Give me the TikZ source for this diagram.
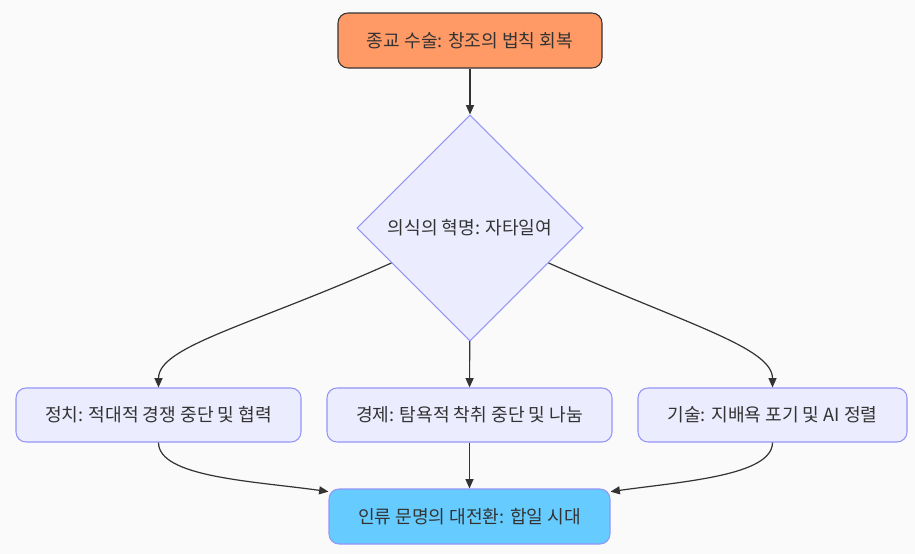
\documentclass[tikz,border=0pt]{standalone}
\usepackage{fontspec}
\setmainfont{Noto Sans CJK KR}
\usetikzlibrary{positioning,shapes.geometric,arrows.meta}
\definecolor{bg}{HTML}{FAFAFB}
\definecolor{boxfill}{HTML}{ECECFF}
\definecolor{boxline}{HTML}{9595F7}
\definecolor{topfill}{HTML}{FF9966}
\definecolor{endfill}{HTML}{66CCFF}
\definecolor{edgecol}{HTML}{333333}

\begin{document}
\begin{tikzpicture}[x=0.75pt,y=-0.75pt,
  font=\fontsize{13.6}{16}\selectfont,
  step box/.style={rectangle,rounded corners=7.5pt,draw=boxline,fill=boxfill,
    line width=0.8pt,minimum height=40.5pt,inner sep=0pt,text=edgecol},
  choice/.style={diamond,draw=boxline,fill=boxfill,line width=0.8pt,
    minimum width=169.5pt,minimum height=169.5pt,inner sep=0pt,text=edgecol},
  flow/.style={-{Triangle[length=7pt,width=6pt]},draw=edgecol,line width=0.9pt}]

\fill[bg] (0,0) rectangle (915,554);
\useasboundingbox (0,0) rectangle (915,554);

\node[step box,fill=topfill,draw=edgecol,minimum width=198pt,minimum height=41.25pt] (surg) at (470,40.5) {종교 수술: 창조의 법칙 회복};
\node[choice] (awak) at (470,228) {의식의 혁명: 자타일여};
\node[step box,minimum width=213.75pt] (pol) at (158.5,415) {정치: 적대적 경쟁 중단 및 협력};
\node[step box,minimum width=213.75pt] (eco) at (469.5,415) {경제: 탐욕적 착취 중단 및 나눔};
\node[step box,minimum width=201.75pt] (tech) at (772.5,415) {기술: 지배욕 포기 및 AI 정렬};
\node[step box,fill=endfill,minimum width=210.75pt,minimum height=41.25pt] (era) at (469.5,516.5) {인류 문명의 대전환: 합일 시대};

\draw[flow] (surg) -- (awak);
\draw[flow] (awak.204) to[out=204,in=90,out looseness=1.5,in looseness=0.4] (pol.north);
\draw[flow] (awak) -- (eco);
\draw[flow] (awak.336) to[out=336,in=90,out looseness=1.5,in looseness=0.4] (tech.north);
\draw[flow] (pol.south) to[out=270,in=172,out looseness=0.5,in looseness=1.1] (era.170);
\draw[flow] (eco) -- (era);
\draw[flow] (tech.south) to[out=270,in=8,out looseness=0.5,in looseness=1.1] (era.10);
\end{tikzpicture}
\end{document}
